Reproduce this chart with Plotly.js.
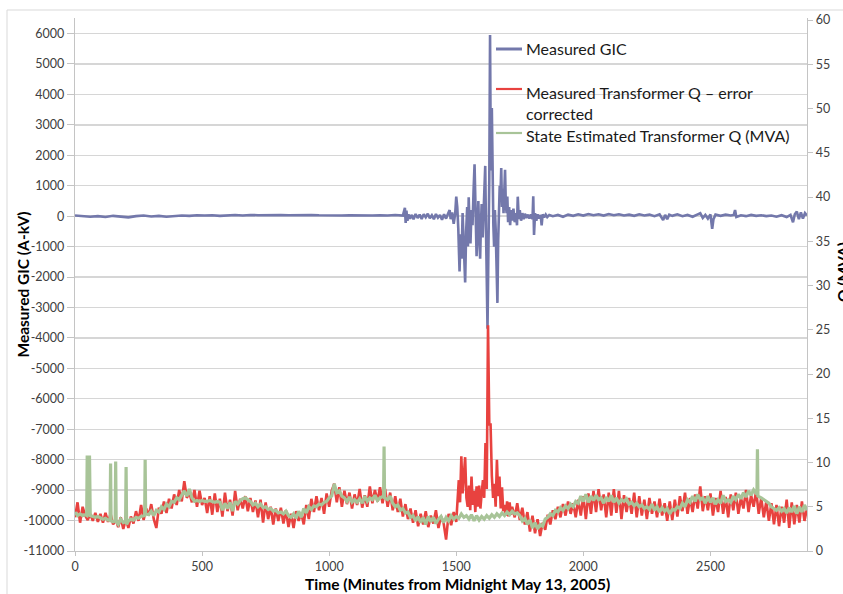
<!DOCTYPE html>
<html><head><meta charset="utf-8">
<script src="https://cdn.plot.ly/plotly-3.0.1.min.js"></script>
<style>html,body{margin:0;padding:0;background:#fff}#chart{width:843px;height:594px}</style>
</head><body><div id="chart"></div>
<script>
// ---- DATA ----
const seriesNames = ["Measured GIC", "Measured Transformer Q \u2013 error", "corrected", "State Estimated Transformer Q (MVA)"];
const xTitle = "Time (Minutes from Midnight May 13, 2005)";
const yTitle = "Measured GIC (A-kV)";
const y2Title = "Q (MVA)";
const xTicks = [0, 500, 1000, 1500, 2000, 2500];
const gicTicks = [6000, 5000, 4000, 3000, 2000, 1000, 0, -1000, -2000, -3000, -4000, -5000, -6000, -7000, -8000, -9000, -10000, -11000];
const qTicks = [0, 5, 10, 15, 20, 25, 30, 35, 40, 45, 50, 55, 60];

const gicTime = [
 0,30,60,90,120,150,180,210,240,270,300,330,360,390,420,450,480,510,540,570,
 600,630,660,690,720,750,780,810,840,870,900,930,960,990,1020,1050,1080,1110,1140,1170,
 1200,1230,1260,1290,
 1298,1301,1304,1308,1312,1318,1325,1332,1340,1348,1356,1364,1372,1380,1388,1396,1404,1412,1420,1428,
 1436,1444,1452,1460,1468,1474,1478,1484,1490,1496,1500,1504,1508,1513,1517,1521,1525,1529,1535,1539,
 1543,1546,1549,1552,1556,1560,1564,1568,1572,1576,1580,1584,1587,1590,1594,1597,1600,1604,1608,1611,
 1614,1617,1620,1623,1626,1630,1633,1636,1640,1643,1646,1649,1652,1655,1658,1662,1665,1668,1671,1674,
 1677,1680,1683,1686,1689,1692,1695,1698,1701,1704,1708,1712,1716,1720,1725,1730,1735,1739,1742,1746,
 1750,1755,1760,1765,1770,1776,1782,1788,1794,1800,1803,1806,1810,1815,1820,1826,1832,1836,1840,1846,
 1852,1858,1866,
 1880,1900,1920,1940,1960,1980,2000,2020,2040,2060,2080,2100,2120,2140,2160,2180,2200,2220,2240,2260,
 2280,2300,2314,2322,2330,2338,2350,2370,2390,2410,2430,2450,2460,2470,2480,2490,2500,2507,2512,2520,
 2540,2560,2580,2592,2597,2602,2620,2640,2660,2680,2700,2720,2740,2760,2780,2800,2815,2825,2832,2840,
 2848,2856,2864,2872,2880
];
const gicValues = [
 20,10,-20,0,-30,10,-10,-40,0,20,-10,10,-20,0,20,10,30,20,30,10,
 30,40,20,40,30,40,50,40,30,40,30,40,30,20,30,20,30,20,30,20,
 30,20,40,20,
 270,-220,180,-150,60,-80,40,-100,70,-60,50,-90,60,-40,80,-70,30,-100,70,-50,
 40,-120,60,-80,90,200,-100,120,-250,100,640,300,-400,-1820,-600,-1400,100,-900,-2180,-500,
 300,-1000,620,-200,-900,200,-300,800,1700,200,-1320,-300,500,-600,-1400,-300,400,-700,200,800,
 1650,-400,-1800,-3700,-1500,1200,5950,1500,3550,800,-300,-1000,200,-400,-1500,-2850,-800,400,1000,700,
 1580,300,900,100,800,1520,400,100,640,-200,300,-300,200,-150,250,-200,100,-300,640,-100,
 200,-150,100,-100,80,-60,50,-80,60,-100,650,-620,100,-150,60,-80,40,-300,60,-40,
 50,-30,40,
 0,40,-20,50,10,60,20,70,30,60,20,70,30,60,20,50,10,60,20,50,
 0,60,-130,40,-100,50,10,60,0,40,-20,60,100,-60,40,-80,60,-420,-100,50,
 10,50,20,40,200,-30,30,0,40,10,30,0,20,-20,30,-30,40,-200,60,150,
 -100,120,-80,100,20
];

const qTime = [
 0,10,20,30,40,50,60,70,80,90,100,110,120,130,140,150,160,170,180,190,
 200,210,220,230,240,250,260,270,280,290,300,310,320,330,340,350,360,370,380,390,
 400,410,420,430,440,450,460,470,480,490,500,510,520,530,540,550,560,570,580,590,
 600,610,620,630,640,650,660,670,680,690,700,710,720,730,740,750,760,770,780,790,
 800,810,820,830,840,850,860,870,880,890,900,910,920,930,940,950,960,970,980,990,
 1000,1010,1020,1030,1040,1050,1060,1070,1080,1090,1100,1110,1120,1130,1140,1150,1160,1170,1180,1190,
 1200,1210,1220,1230,1240,1250,1260,1270,1280,1290,1300,1310,1320,1330,1340,1350,1360,1370,1380,1390,
 1400,1410,1420,1430,1440,1450,1460,1470,1480,1490,1500,
 1505,1510,1515,1520,1525,1530,1535,1540,1545,1550,1555,1560,1565,1570,1575,1580,1585,1590,1595,1600,
 1605,1610,1615,1620,1625,1630,1635,1640,1645,1650,1655,1660,1665,1670,1675,1680,1685,1690,1695,1700,
 1705,1710,1715,1720,
 1730,1740,1750,1760,1770,1780,1790,1800,1810,1820,1830,1840,1850,1860,1870,1880,1890,1900,1910,1920,
 1930,1940,1950,1960,1970,1980,1990,2000,2010,2020,2030,2040,2050,2060,2070,2080,2090,2100,2110,2120,
 2130,2140,2150,2160,2170,2180,2190,2200,2210,2220,2230,2240,2250,2260,2270,2280,2290,2300,2310,2320,
 2330,2340,2350,2360,2370,2380,2390,2400,2410,2420,2430,2440,2450,2460,2470,2480,2490,2500,2510,2520,
 2530,2540,2550,2560,2570,2580,2590,2600,2610,2620,2630,2640,2650,2660,2670,2680,2690,2700,2710,2720,
 2730,2740,2750,2760,2770,2780,2790,2800,2810,2820,2830,2840,2850,2860,2870,2880
];
const qMeasured = [
 3.8,5.5,3.2,5.0,4.0,
 3.5,4.2,3.4,4.3,3.3,4.2,3.2,4.3,3.3,4.2,3.0,
 3.6,2.7,3.8,2.5,3.6,2.6,3.9,3.1,4.5,3.4,
 5.2,3.5,4.8,4.0,5.3,3.6,2.6,4.9,4.2,5.6,
 4.3,5.9,4.8,6.4,5.2,6.9,5.6,7.9,6.0,6.6,5.5,6.9,
 5.0,6.8,5.2,6.0,4.3,6.2,4.1,6.5,4.4,5.9,3.9,6.6,4.5,5.8,4.0,6.8,4.6,5.9,
 4.8,6.2,4.5,6.0,4.4,5.7,3.8,5.8,3.2,5.5,3.6,5.0,3.0,4.8,3.4,4.9,3.1,4.6,2.7,4.2,
 2.6,4.5,3.4,4.3,3.0,5.2,3.6,5.9,4.4,6.2,4.6,6.0,4.2,6.5,5.0,
 6.8,7.6,5.5,7.2,5.0,6.8,5.3,6.6,4.8,6.4,5.2,7.0,4.9,6.3,5.0,7.3,5.4,6.9,5.6,7.2,
 5.4,7.0,5.0,6.6,4.6,6.2,4.4,5.9,3.9,5.3,3.6,4.8,
 3.2,4.6,2.8,4.2,3.0,4.5,2.7,4.0,3.1,4.6,2.6,3.9,3.2,1.3,4.2,2.9,4.4,3.3,
 6.0,8.0,5.5,10.7,6.5,8.2,10.6,6.0,5.0,7.4,4.6,8.4,5.2,6.8,4.4,7.3,5.0,7.4,4.8,6.5,
 8.0,6.0,12.2,7.0,25.5,14.3,14.3,8.5,6.0,7.6,5.0,10.3,6.2,8.4,4.8,7.2,4.5,5.2,4.0,5.6,
 3.9,5.5,4.1,5.0,
 3.8,5.4,3.5,4.9,3.0,4.4,2.2,4.0,2.0,3.6,1.7,3.2,2.4,
 4.1,3.0,4.6,3.6,5.0,3.8,5.3,4.0,5.6,4.2,5.4,3.8,
 5.8,4.0,6.2,3.6,6.5,4.2,6.8,4.4,7.0,4.6,6.4,
 3.8,6.6,4.0,7.0,4.3,6.8,3.6,6.3,4.4,6.0,4.2,6.6,3.8,6.2,4.0,5.8,3.6,6.0,4.2,5.6,3.8,5.9,4.0,5.4,3.4,
 5.6,3.5,5.8,3.9,6.2,4.5,6.6,4.2,6.0,4.4,6.4,4.8,7.3,
 4.5,6.2,4.6,6.5,4.0,6.0,4.4,6.8,4.2,6.1,3.8,6.4,4.6,6.6,4.2,6.0,4.8,6.9,4.4,6.3,5.0,6.8,
 4.2,6.0,3.8,5.6,3.4,5.4,3.0,5.2,2.8,5.0,3.2,5.8,2.6,5.5,3.0,5.2,3.2,5.6,3.4,4.8
];

const seTime = [
 0,10,20,30,40,46,48,50,54,57,60,70,80,90,100,110,120,130,138,140,
 142,150,158,160,162,170,180,190,199,201,203,210,220,230,240,250,260,274,276,278,
 290,300,310,320,330,340,350,360,370,380,390,400,410,420,430,440,450,460,470,480,
 490,500,510,520,530,540,550,560,570,580,590,600,610,620,630,640,650,660,670,680,
 690,700,710,720,730,740,750,760,770,780,790,800,810,820,830,840,850,860,870,880,
 890,900,910,920,930,940,950,960,970,980,990,1000,1010,1020,1030,1040,1050,1060,1070,1080,
 1090,1100,1110,1120,1130,1140,1150,1160,1170,1180,1190,1200,1214,1216,1218,1230,1240,1250,1260,1270,
 1280,1290,1300,1310,1320,1330,1340,1350,1360,1370,1380,1390,1400,1410,1420,1430,1440,1450,1460,1470,
 1480,1490,1500,1510,1520,1530,1540,1550,1560,1570,1580,1590,1600,1610,1620,1630,1640,1650,1660,1670,
 1680,1690,1700,1710,1720,1730,1740,1750,1760,1770,1780,1790,1800,1810,1820,1830,1840,1850,1860,1870,
 1880,1890,1900,1910,1920,1930,1940,1950,1960,1970,1980,1990,2000,2010,2020,2030,2040,2050,2060,2070,
 2080,2090,2100,2110,2120,2130,2140,2150,2160,2170,2180,2190,2200,2210,2220,2230,2240,2250,2260,2270,
 2280,2290,2300,2310,2320,2330,2340,2350,2360,2370,2380,2390,2400,2410,2420,2430,2440,2450,2460,2470,
 2480,2490,2500,2510,2520,2530,2540,2550,2560,2570,2580,2590,2600,2610,2620,2630,2640,2650,2660,2670,
 2680,2683,2685,2687,2700,2710,2720,2730,2740,2750,2760,2770,2780,2790,2800,2810,2820,2830,2840,2850,
 2860,2870,2880
];
const qEstimated = [
 4.4,4.0,4.2,4.0,4.1,4.0,10.8,4.1,4.0,10.8,4.0,3.9,3.8,3.9,3.7,3.6,3.7,3.5,3.5,9.9,
 3.4,3.3,3.4,10.1,3.3,3.0,3.6,3.2,3.3,9.5,3.0,3.4,3.6,3.5,3.8,3.7,3.9,4.0,10.3,4.2,
 4.1,4.5,4.0,4.6,4.4,5.0,4.7,5.3,5.0,5.6,5.5,6.0,5.8,6.4,6.8,6.2,7.0,6.0,5.6,5.7,
 5.6,5.7,5.6,5.6,5.7,5.6,5.5,5.6,5.5,4.6,5.4,4.8,5.5,4.5,5.6,5.3,5.7,5.9,6.0,5.8,
 5.6,5.2,5.4,5.0,5.3,4.9,5.0,4.7,4.8,4.5,4.6,4.3,4.4,4.2,4.5,4.0,3.8,4.2,3.7,4.5,
 3.8,4.8,4.3,5.0,4.7,5.1,5.0,5.3,5.2,5.5,5.6,6.0,6.2,7.6,6.6,6.8,6.2,6.0,5.6,6.1,
 5.5,5.8,5.5,5.9,5.4,6.2,5.6,6.0,5.8,6.3,5.7,6.0,6.2,11.8,6.0,5.8,6.2,5.4,5.0,5.2,
 4.6,4.8,4.3,4.4,3.8,4.0,3.4,3.9,3.2,3.8,3.0,3.9,3.3,3.8,3.1,3.6,3.9,3.2,3.8,3.4,
 4.0,3.6,3.9,3.7,4.2,3.8,4.0,3.6,4.1,3.4,4.0,3.5,3.9,3.6,4.0,3.7,4.1,3.8,4.2,3.9,
 4.3,4.0,4.4,4.1,4.5,4.2,4.3,4.0,3.4,3.7,3.0,3.5,2.6,3.2,2.5,3.0,2.8,3.6,3.8,4.2,
 4.0,4.6,4.4,4.9,4.6,5.1,4.8,5.3,5.0,5.6,5.4,6.2,5.6,6.4,5.5,6.2,5.7,6.3,5.8,6.0,
 5.4,6.1,5.6,6.3,5.5,6.0,5.4,5.8,5.6,5.9,5.3,5.5,5.1,5.4,5.0,5.2,4.8,5.0,4.7,5.3,
 4.6,5.0,4.4,4.9,4.5,4.8,4.2,4.7,4.6,5.0,4.8,5.4,5.0,5.8,5.5,6.2,5.6,6.4,5.8,6.0,
 5.4,6.2,5.5,6.0,5.3,5.8,5.4,6.3,5.6,5.8,5.5,6.2,5.8,6.4,5.9,6.6,6.1,6.8,6.3,6.9,
 6.5,6.4,11.5,6.2,6.0,5.8,5.5,5.4,5.0,4.8,4.6,4.9,4.5,4.8,4.3,4.9,4.4,5.1,4.2,5.0,
 4.4,5.2,4.6
];

if (gicTime.length !== gicValues.length || qTime.length !== qMeasured.length || seTime.length !== qEstimated.length) {
  throw new Error("length mismatch " + [gicTime.length, gicValues.length, qTime.length, qMeasured.length, seTime.length, qEstimated.length].join(","));
}

// ---- STYLE / LAYOUT ----
const colGIC = "#7378ab", colQ = "#e8423f", colSE = "#a8c498";
const FONT = "Lato, 'Open Sans', sans-serif";
const W = 843, H = 594, L = 75, R = 807, T = 18, B = 551;
const px = p => (p - L) / (R - L);
const py = p => (B - p) / (B - T);

const traces = [
  {x: gicTime, y: gicValues, type: "scatter", mode: "lines", name: seriesNames[0],
   line: {color: colGIC, width: 2.6}, yaxis: "y"},
  {x: qTime, y: qMeasured, type: "scatter", mode: "lines", name: seriesNames[1] + " " + seriesNames[2],
   line: {color: colQ, width: 2.6}, yaxis: "y2"},
  {x: seTime, y: qEstimated, type: "scatter", mode: "lines", name: seriesNames[3],
   line: {color: colSE, width: 3.2}, yaxis: "y2"}
];

const legendItems = [
  {y: 49, color: colGIC, w: 3, text: seriesNames[0], ty: 49},
  {y: 89, color: colQ, w: 2.2, text: seriesNames[1], ty: 93},
  {y: 133, color: colSE, w: 2.2, text: seriesNames[3], ty: 135}
];

const shapes = [
  {type: "rect", xref: "paper", yref: "paper", x0: px(7), x1: px(900), y0: py(700), y1: py(10),
   line: {color: "#d9d9d9", width: 1}, fillcolor: "rgba(0,0,0,0)", layer: "below"}
];
legendItems.forEach(it => shapes.push({type: "line", xref: "paper", yref: "paper",
  x0: px(496), x1: px(522), y0: py(it.y), y1: py(it.y), line: {color: it.color, width: it.w}}));

const annotations = legendItems.map(it => ({xref: "paper", yref: "paper", x: px(524), y: py(it.ty),
  xanchor: "left", yanchor: "middle", showarrow: false, text: it.text,
  font: {family: FONT, size: 16, color: "#1a1a1a"}}));
annotations.push({xref: "paper", yref: "paper", x: px(524), y: py(113), xanchor: "left", yanchor: "middle",
  showarrow: false, text: seriesNames[2], font: {family: FONT, size: 16, color: "#1a1a1a"}});
annotations.push({xref: "paper", yref: "paper", x: px(22), y: py(284.5), xanchor: "center", yanchor: "middle",
  showarrow: false, textangle: -90, text: "<b>" + yTitle + "</b>", font: {family: FONT, size: 15.5, color: "#000"}});
annotations.push({xref: "paper", yref: "paper", x: px(457), y: py(584), xanchor: "center", yanchor: "middle",
  showarrow: false, text: "<b>" + xTitle + "</b>", font: {family: FONT, size: 15.5, color: "#000"}});
annotations.push({xref: "paper", yref: "paper", x: px(843), y: py(272), xanchor: "center", yanchor: "middle",
  showarrow: false, textangle: -90, text: "<b>" + y2Title + "</b>", font: {family: FONT, size: 15.5, color: "#000"}});

const layout = {
  width: W, height: H,
  margin: {l: L, r: W - R, t: T, b: H - B, pad: 0},
  paper_bgcolor: "#fff", plot_bgcolor: "#fff",
  showlegend: false, hovermode: false,
  font: {family: FONT, size: 12.5, color: "#404040"},
  xaxis: {range: [0, 2880], tickvals: xTicks, ticktext: xTicks.map(String),
    showgrid: false, zeroline: false, showline: true, linecolor: "#c4c4c4", linewidth: 1.2,
    ticks: "outside", ticklen: 4, tickcolor: "#c4c4c4", tickfont: {family: FONT, size: 12.5, color: "#404040"}},
  yaxis: {range: [-11000, 6509], tickvals: gicTicks, ticktext: gicTicks.map(String),
    showgrid: true, gridcolor: "#d6d6d6", gridwidth: 1.4, zeroline: false,
    showline: true, linecolor: "#c4c4c4", linewidth: 1.2,
    ticks: "outside", ticklen: 7, tickcolor: "#c4c4c4", tickfont: {family: FONT, size: 12.5, color: "#404040"}},
  yaxis2: {range: [0, 60.23], overlaying: "y", side: "right", tickvals: qTicks, ticktext: qTicks.map(String),
    showgrid: false, zeroline: false, showline: true, linecolor: "#c4c4c4", linewidth: 1.2,
    ticks: "outside", ticklen: 5, tickcolor: "#c4c4c4", tickfont: {family: FONT, size: 12.5, color: "#404040"}},
  shapes: shapes,
  annotations: annotations
};

Plotly.newPlot("chart", traces, layout, {displayModeBar: false, staticPlot: true});
</script></body></html>
